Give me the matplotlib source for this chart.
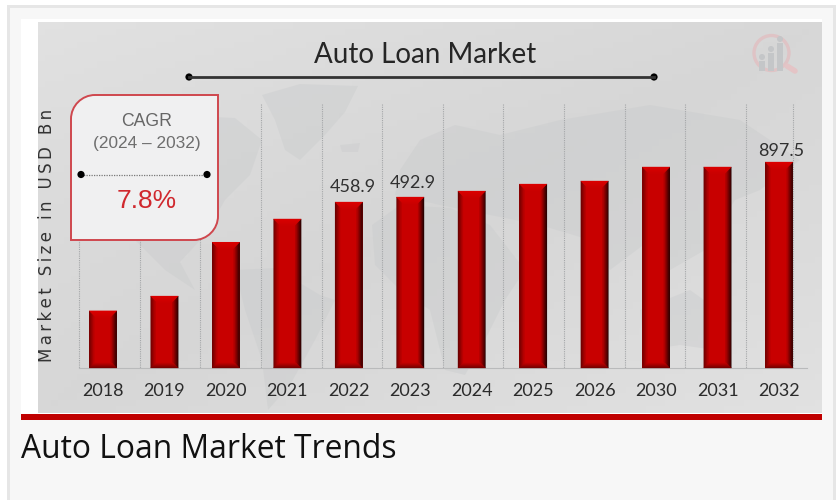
import numpy as np
import matplotlib
matplotlib.use("Agg")
import matplotlib.pyplot as plt
from matplotlib.patches import Circle, PathPatch, Polygon, Rectangle
from matplotlib.path import Path

# market size by year, USD Bn (only three years are printed on the bars)
years = ["2018", "2019", "2020", "2021", "2022", "2023",
         "2024", "2025", "2026", "2030", "2031", "2032"]
market_size = [158, 199, 348, 412, 458.9, 492.9, 562, 643, 678, 840, 840, 897.5]
printed = {"2022": "458.9", "2023": "492.9", "2032": "897.5"}
label_shift = {"2022": (3, 5), "2023": (1.5, 4), "2032": (1.5, 2.5)}

chart_title = "Auto Loan Market"
y_title = "Market Size in USD Bn"
page_heading = "Auto Loan Market Trends"
cagr_lines = ["CAGR", "(2024 \u2013 2032)"]
cagr_value = "7.8%"

# the y axis is compressed, not linear: value -> height of the bar in px
scale_values = [0, 458.9, 492.9, 897.5, 1500]
scale_heights = [0, 166, 171, 206, 268]

W, H = 836, 500
RED = "#c80000"


def mix(a, b, t):
    a, b = matplotlib.colors.to_rgb(a), matplotlib.colors.to_rgb(b)
    return tuple(x + (y - x) * t for x, y in zip(a, b))


def pixel_axes(zorder):
    a = fig.add_axes([0, 0, 1, 1], zorder=zorder)
    a.set_xlim(0, W); a.set_ylim(H, 0); a.axis("off")
    a.patch.set_alpha(0)
    return a


def bevel(px, x0, x1, y0, y1):
    # ring of trapezoids per pixel of depth, so each side fades into the face
    sides = [(6, "#250000", lambda d: [(x1 - d, y0 + d), (x1 - d - 1, y0 + d + 1), (x1 - d - 1, y1 - d - 1), (x1 - d, y1 - d)]),
             (5, "#6a0000", lambda d: [(x0 + d, y0 + d), (x0 + d + 1, y0 + d + 1), (x0 + d + 1, y1 - d - 1), (x0 + d, y1 - d)]),
             (7, "#dc0000", lambda d: [(x0 + d, y0 + d), (x1 - d, y0 + d), (x1 - d - 1, y0 + d + 1), (x0 + d + 1, y0 + d + 1)]),
             (5, "#780000", lambda d: [(x0 + d, y1 - d), (x1 - d, y1 - d), (x1 - d - 1, y1 - d - 1), (x0 + d + 1, y1 - d - 1)])]
    for depth, edge, pts in sides:
        for d in range(depth):
            c = mix(edge, RED, d / depth)
            px.add_patch(Polygon(pts(d), closed=True, fc=c, ec=c, lw=0.2))


fig = plt.figure(figsize=(W / 100, H / 100), dpi=100, facecolor="white")
bg = pixel_axes(0)

# page frame
bg.add_patch(Rectangle((7, 5), 829, 495, fc="#e6e6e6", ec="none"))
bg.add_patch(Rectangle((10, 8), 823, 492, fc="#f7f7f7", ec="none"))
bg.add_patch(Rectangle((21, 19), 801, 395, fc="white", ec="none"))

# grey backdrop, lighter towards the corners
gy, gx = np.mgrid[0:1:60j, 0:1:120j]
shade = 0.835 + 0.04 * np.abs(gx + gy - 1.0) + 0.02 * (gy - 0.5) ** 2
bg.imshow(shade, cmap="gray", vmin=0, vmax=1, extent=(38, 822, 413, 22), aspect="auto", zorder=1)
bg.set_xlim(0, W); bg.set_ylim(H, 0)

# faint world map behind the bars
continents = [
    [(70, 150), (110, 125), (170, 115), (235, 118), (262, 140), (250, 175), (225, 200), (205, 235), (180, 262), (195, 290), (165, 270), (130, 235), (100, 190)],
    [(262, 95), (300, 84), (358, 86), (345, 112), (325, 135), (300, 160), (285, 150), (275, 120)],
    [(235, 270), (275, 268), (320, 295), (335, 300), (315, 340), (290, 385), (268, 410), (262, 360), (245, 310)],
    [(372, 225), (400, 205), (450, 208), (490, 225), (525, 270), (505, 300), (485, 340), (465, 375), (445, 370), (430, 310), (400, 290), (375, 265)],
    [(400, 170), (420, 140), (455, 125), (500, 135), (560, 120), (650, 105), (740, 120), (800, 160), (760, 190), (735, 200), (705, 250), (670, 270), (650, 240), (610, 270), (590, 240), (540, 225), (490, 215), (440, 205), (395, 195)],
    [(640, 310), (690, 290), (725, 315), (715, 350), (680, 345), (645, 350)],
    [(340, 145), (360, 143), (358, 152), (342, 152)],
]
for shape in continents:
    bg.add_patch(Polygon(shape, closed=True, fc="#c9cbcc", ec="none", alpha=0.4, zorder=2))

# vertical guides between the categories
guides = list(np.linspace(79, 746, 12)) + [793]
for gxp in guides:
    bg.plot([gxp, gxp], [104, 368], color="#a4a6a8", lw=0.8, ls=(0, (1, 1)), zorder=3)

# red rule closing the chart image
bg.add_patch(Rectangle((21, 413.5), 801, 6.5, fc="#c00000", ec="none", zorder=4))

# bars, on the compressed value axis
ax = fig.add_axes([79 / W, 1 - 368 / H, (807 - 79) / W, 268 / H], zorder=1)
ax.patch.set_alpha(0)
ax.set_yscale("function", functions=(lambda v: np.interp(v, scale_values, scale_heights),
                                     lambda h: np.interp(h, scale_heights, scale_values)))
pos = np.arange(len(years))
bars = ax.bar(pos, market_size, width=27.5 / 61.45, color=RED, linewidth=0, zorder=2)
ax.set_xlim(-24 / 61.45, 11 + 28 / 61.45)
ax.set_ylim(0, 1500)
ax.set_xticks(pos, years, family="Lato", fontsize=13, color="#2b2b2b")
ax.set_yticks([])
ax.tick_params(axis="x", length=0, pad=11)
for name, spine in ax.spines.items():
    spine.set_visible(name == "bottom")
ax.spines["bottom"].set_color("#b9babb")
for i, year in enumerate(years):
    if year in printed:
        ax.annotate(printed[year], (i, market_size[i]), xytext=label_shift[year], textcoords="offset points",
                    ha="center", va="bottom", family="Lato", fontsize=13, color="#303030")

over = pixel_axes(2)
for rect in bars:
    (x0, y0), (x1, y1) = ax.transData.transform([(rect.get_x(), rect.get_height()),
                                                 (rect.get_x() + rect.get_width(), 0)])
    bevel(over, x0, x1, H - y0, H - y1)

# chart heading with its rule
over.text(425, 55, chart_title, family="Lato", fontsize=20, color="#262626", ha="center", va="center")
over.plot([189, 654], [77, 77], color="#333333", lw=2)
over.add_patch(Circle((189, 77), 3.6, fc="black", ec="none"))
over.add_patch(Circle((654, 77), 3.6, fc="black", ec="none"))

# rotated axis caption, letterspaced
over.text(47, 235, "\u2009".join(y_title), family="DejaVu Sans", fontsize=12, rotation=90,
          color="#333333", ha="center", va="center")

# CAGR callout: top-left and bottom-right corners rounded
l, r, t, b, rad = 71, 218, 95, 240, 24
k = rad * 0.45
verts = [(l, t + rad), (l, t + k), (l + k, t), (l + rad, t), (r, t), (r, b - rad), (r, b - k), (r - k, b), (r - rad, b), (l, b), (l, t + rad)]
codes = [Path.MOVETO, Path.CURVE4, Path.CURVE4, Path.CURVE4, Path.LINETO, Path.LINETO,
         Path.CURVE4, Path.CURVE4, Path.CURVE4, Path.LINETO, Path.CLOSEPOLY]
over.add_patch(PathPatch(Path(verts, codes), fc="#f0f0f1", ec="#cf474e", lw=1.4, zorder=5))
over.text(147, 121, cagr_lines[0], family="Liberation Sans", fontsize=12.7, color="#666666", ha="center", va="center", zorder=6)
over.text(147, 143.5, cagr_lines[1], family="Liberation Sans", fontsize=12.4, color="#6e6e6e", ha="center", va="center", zorder=6)
over.plot([81, 207], [174.5, 174.5], color="#777777", lw=0.9, ls=(0, (1, 1)), zorder=6)
over.add_patch(Circle((81, 174.5), 3.6, fc="black", ec="none", zorder=7))
over.add_patch(Circle((207, 174.5), 3.6, fc="black", ec="none", zorder=7))
over.text(146.5, 200.5, cagr_value, family="Liberation Sans", fontsize=19, color="#d0282e", ha="center", va="center", zorder=6)

# watermark logo, top right
over.add_patch(Circle((771.5, 53), 17.5, fc="none", ec="#dfc3c5", lw=2.4))
over.plot([787, 795], [66, 71], color="#e4c4c6", lw=4, solid_capstyle="round")
for lx, ly in [(762, 57), (771, 49), (780, 39)]:
    over.add_patch(Circle((lx, ly), 3, fc="#c4c6c8", ec="none"))
    over.add_patch(Rectangle((lx - 3, ly + 4), 6, 71 - ly - 4, fc="#c4c6c8", ec="none"))

over.text(21, 449, page_heading, family="Open Sans", fontsize=22.9, color="#111111", ha="left", va="center")

fig.savefig("out.png", dpi=100)
